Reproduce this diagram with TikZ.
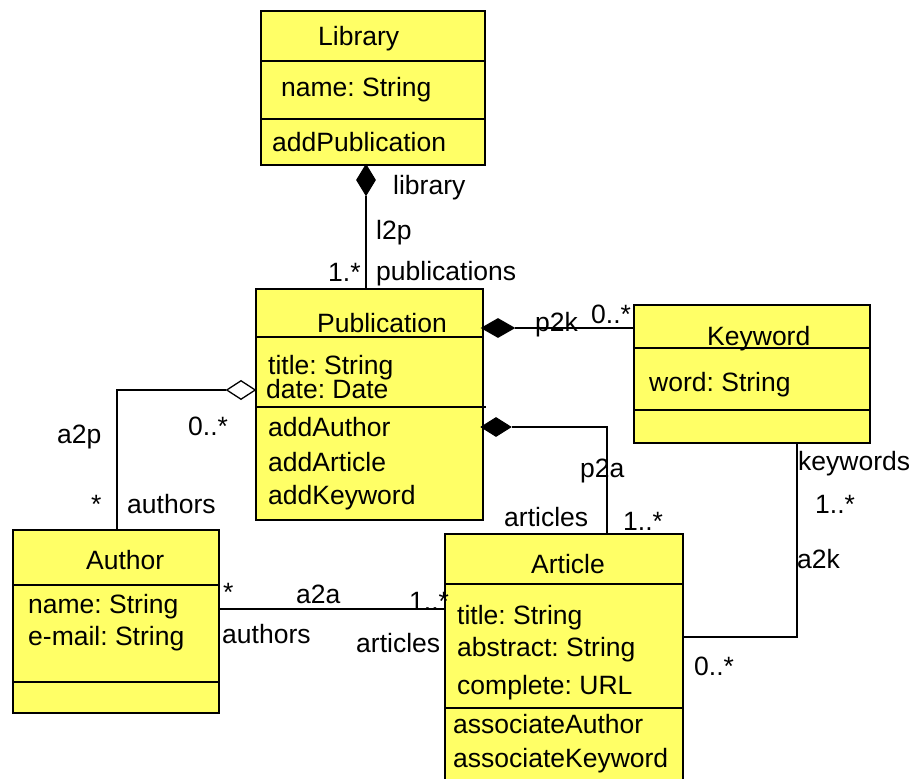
\documentclass[tikz,border=0pt]{standalone}
\usepackage{fontspec}
\setmainfont{Liberation Sans}
\usetikzlibrary{shapes.geometric}
\definecolor{umlyellow}{RGB}{255,255,102}
\newcommand{\umlfont}{\fontsize{26.5}{30}\selectfont\frenchspacing}
\tikzset{
  cls/.style={draw, line width=2pt, fill=umlyellow, rectangle, inner sep=0pt, anchor=north west},
  div/.style={line width=1.6pt},
  conn/.style={line width=1.5pt},
  txt/.style={anchor=base west, inner sep=0pt, font=\umlfont},
  fdia/.style={diamond, draw, fill=black, inner sep=0pt, line width=1pt},
  hdia/.style={diamond, draw, fill=white, inner sep=0pt, line width=1.3pt},
}
\begin{document}
\frenchspacing
\begin{tikzpicture}[x=1pt,y=-1pt]
\useasboundingbox (0,0) rectangle (909,778);
% ---- classes
\node[cls, minimum width=224pt, minimum height=154pt] (lib) at (260,10) {};
\node[cls, minimum width=227pt, minimum height=231pt] (pub) at (255,288) {};
\node[cls, minimum width=236pt, minimum height=138pt] (kw) at (633,304) {};
\node[cls, minimum width=206pt, minimum height=183pt] (auth) at (12,529) {};
\node[cls, minimum width=238pt, minimum height=255pt] (art) at (444,533) {};
% ---- dividers
\draw[div] (lib.west |- 0,61) -- (lib.east |- 0,61);
\draw[div] (lib.west |- 0,119) -- (lib.east |- 0,119);
\draw[div] (pub.west |- 0,337) -- (pub.east |- 0,337);
\draw[div] (pub.west |- 0,407) -- (486,407);
\draw[div] (kw.west |- 0,348) -- (kw.east |- 0,348);
\draw[div] (kw.west |- 0,410) -- (kw.east |- 0,410);
\draw[div] (auth.west |- 0,585) -- (auth.east |- 0,585);
\draw[div] (auth.west |- 0,682) -- (auth.east |- 0,682);
\draw[div] (art.west |- 0,584) -- (art.east |- 0,584);
\draw[div] (art.west |- 0,708) -- (art.east |- 0,708);
% ---- class texts
\node[txt] (tLib) at (318,46) {Library};
\node[txt] (tLib1) at (281,97) {name: String};
\node[txt] (tLib2) at (272,152) {addPublication};
\node[txt] (tPub) at (317,332) {Publication};
\node[txt] (tPub1) at (268,374) {title: String};
\node[txt] (tPub2) at (266,398) {date: Date};
\node[txt] (tPub3) at (268,436) {addAuthor};
\node[txt] (tPub4) at (268,471) {addArticle};
\node[txt] (tPub5) at (268,504) {addKeyword};
\node[txt] (tKw) at (707,345) {Keyword};
\node[txt] (tKw1) at (649,391) {word: String};
\node[txt] (tAu) at (86,569) {Author};
\node[txt] (tAu1) at (28,613) {name: String};
\node[txt] (tAu2) at (28,645) {e-mail: String};
\node[txt] (tAr) at (531,573) {Article};
\node[txt] (tAr1) at (457,624) {title: String};
\node[txt] (tAr2) at (457,656) {abstract: String};
\node[txt] (tAr3) at (457,694) {complete: URL};
\node[txt] (tAr4) at (453,733) {associateAuthor};
\node[txt] (tAr5) at (453,767) {associateKeyword};
% ---- diamonds
\node[fdia, minimum width=19pt, minimum height=31pt] (dLib) at (366,180) {};
\node[fdia, minimum width=33pt, minimum height=19pt] (dP2k) at (498,328) {};
\node[fdia, minimum width=30pt, minimum height=19pt] (dP2a) at (496,427) {};
\node[hdia, minimum width=29pt, minimum height=19pt] (dA2p) at (241,390) {};
% ---- connector corners
\coordinate (cP2a) at (607,427);
\coordinate (cA2p) at (117,390);
\coordinate (cA2aL) at (218,609);
\coordinate (cA2kT) at (797,442);
\coordinate (cA2kB) at (797,637);
% ---- connectors
\draw[conn] (dLib.south) -- (dLib.south |- pub.north);
\draw[conn] (dP2k.east) -- (dP2k.east -| kw.west);
\draw[conn] (dP2a.east) -- (cP2a) -- (cP2a |- art.north);
\draw[conn] (dA2p.west) -- (cA2p) -- (cA2p |- auth.north);
\draw[conn] (cA2aL) -- (cA2aL -| art.west);
\draw[conn] (cA2kT) -- (cA2kB) -- (cA2kB -| art.east);
% ---- association labels
\node[txt] (lLib) at (393,194) {library};
\node[txt] (lL2p) at (376,239) {l2p};
\node[txt] (lM1) at (328,281) {1.*};
\node[txt] (lPubs) at (376,280) {publications};
\node[txt] (lP2k) at (535,331) {p2k};
\node[txt] (lM2) at (591,323) {0..*};
\node[txt] (lP2a) at (580,477) {p2a};
\node[txt] (lArts1) at (504,526) {articles};
\node[txt] (lM3) at (623,530) {1..*};
\node[txt] (lKws) at (798,470) {keywords};
\node[txt] (lM4) at (815,513) {1..*};
\node[txt] (lA2k) at (797,568) {a2k};
\node[txt] (lM5) at (694,675) {0..*};
\node[txt] (lA2p) at (57,443) {a2p};
\node[txt] (lM6) at (188,435) {0..*};
\node[txt] (lM7) at (91,513) {*};
\node[txt] (lAuths1) at (127,513) {authors};
\node[txt] (lM8) at (223,601) {*};
\node[txt] (lA2a) at (296,603) {a2a};
\node[txt] (lM9) at (409,610) {1..*};
\node[txt] (lAuths2) at (222,643) {authors};
\node[txt] (lArts2) at (356,652) {articles};
\end{tikzpicture}
\end{document}
